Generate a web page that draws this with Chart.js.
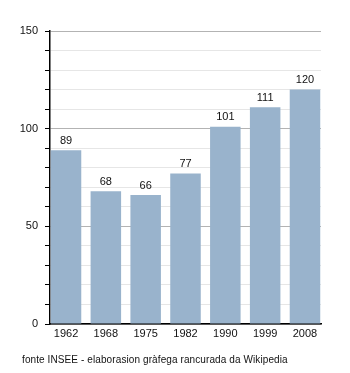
<!DOCTYPE html>
<html>
<head>
<meta charset="utf-8">
<script src="https://cdn.jsdelivr.net/npm/chart.js@4.4.0/dist/chart.umd.min.js"></script>
<style>
  html, body { margin: 0; padding: 0; background: #fff; }
  #wrap { position: relative; width: 350px; height: 373px; }
  #source {
    position: absolute; left: 22px; top: 354px;
    font: 10px "Liberation Sans", Arial, sans-serif; color: #111;
    letter-spacing: 0.1px;
  }
</style>
</head>
<body>
<div id="wrap">
  <canvas id="chart" width="350" height="373"></canvas>
  <div id="source">fonte INSEE - elaborasion gràfega rancurada da Wikipedia</div>
</div>
<script>
const years = ['1962', '1968', '1975', '1982', '1990', '1999', '2008'];
const population = [89, 68, 66, 77, 101, 111, 120];
const yMajorTicks = [0, 50, 100, 150];

// Draw the value above each bar
const valueLabels = {
    id: 'valueLabels',
    afterDatasetsDraw(chart) {
        const ctx = chart.ctx;
        const meta = chart.getDatasetMeta(0);
        ctx.save();
        ctx.font = '11px "Liberation Sans", Arial, sans-serif';
        ctx.fillStyle = '#111';
        ctx.textAlign = 'center';
        ctx.textBaseline = 'bottom';
        meta.data.forEach((bar, i) => {
            ctx.fillText(population[i], bar.x, bar.y - 4);
        });
        ctx.restore();
    }
};

new Chart(document.getElementById('chart').getContext('2d'), {
    type: 'bar',
    data: {
        datasets: [{
            data: population.map((v, i) => ({ x: i, y: v })),
            backgroundColor: '#99b3cc',
            borderWidth: 0,
            barPercentage: 0.766,
            categoryPercentage: 1
        }]
    },
    options: {
        responsive: false,
        animation: false,
        layout: { padding: { left: 0, right: 29, top: 31, bottom: 0 } },
        plugins: {
            legend: { display: false },
            tooltip: { enabled: false }
        },
        scales: {
            x: {
                type: 'linear',
                min: -0.402,
                max: 6.402,
                offset: false,
                grid: { display: false, drawTicks: false },
                border: { display: true, color: '#000', width: 1.5 },
                ticks: {
                    stepSize: 1,
                    includeBounds: false,
                    autoSkip: false,
                    maxRotation: 0,
                    padding: 3,
                    color: '#111',
                    font: { family: '"Liberation Sans", Arial, sans-serif', size: 11 },
                    callback: v => Number.isInteger(v) && years[v] ? years[v] : ''
                },
                afterFit: scale => { scale.height = 49; }
            },
            y: {
                min: 0,
                max: 150,
                grid: {
                    color: c => yMajorTicks.includes(c.tick.value) ? '#b3b3b3' : '#e6e6e6',
                    tickColor: '#000',
                    tickLength: 5,
                    lineWidth: 1
                },
                border: { display: true, color: '#000', width: 1.5 },
                ticks: {
                    stepSize: 10,
                    padding: 7,
                    color: '#111',
                    font: { family: '"Liberation Sans", Arial, sans-serif', size: 11 },
                    callback: v => yMajorTicks.includes(v) ? v : ''
                },
                afterFit: scale => { scale.width = 50; }
            }
        }
    },
    plugins: [valueLabels]
});
</script>
</body>
</html>
